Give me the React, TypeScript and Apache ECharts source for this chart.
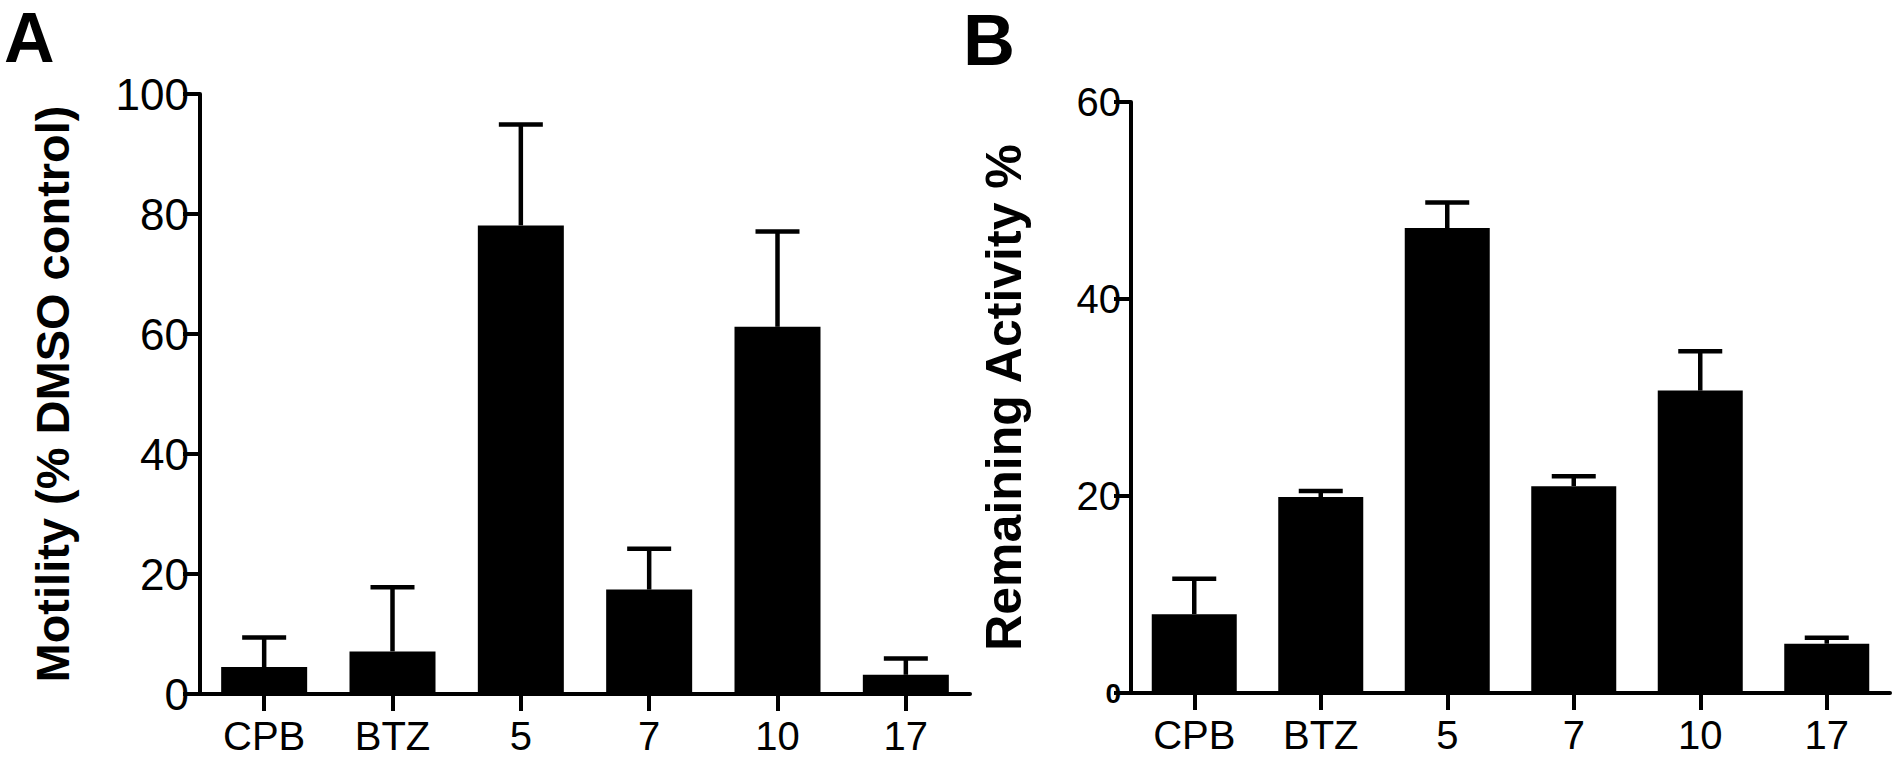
import React, { useEffect, useRef } from 'react';
import * as echarts from 'echarts';

const categories = ['CPB', 'BTZ', '5', '7', '10', '17'];
const motilityMean = [4.5, 7.1, 78.1, 17.4, 61.2, 3.2];
const motilitySD = [4.9, 10.7, 16.8, 6.8, 15.9, 2.7];
const activityMean = [8.0, 19.9, 47.2, 21.0, 30.7, 5.0];
const activitySD = [3.6, 0.6, 2.6, 1.0, 4.0, 0.6];
const motilityTicks = [0, 20, 40, 60, 80, 100];
const activityTicks = [0, 20, 40, 60];
const panelLabels = ['A', 'B'];
const axisNames = ['Motility (% DMSO control)', 'Remaining Activity %'];

const FONT = '"Liberation Sans", Arial, sans-serif';
const BLACK = '#000';

function errRender(params: any, api: any) {
  const idx = api.value(0);
  const mean = api.value(1);
  const sd = api.value(2);
  const base = api.coord([idx, mean]);
  const top = api.coord([idx, mean + sd]);
  const half = 22;
  const st = { stroke: BLACK, lineWidth: 4.5 };
  return {
    type: 'group',
    children: [
      { type: 'line', shape: { x1: base[0], y1: base[1], x2: top[0], y2: top[1] }, style: st },
      { type: 'line', shape: { x1: top[0] - half, y1: top[1], x2: top[0] + half, y2: top[1] }, style: st },
    ],
  };
}

function xAxisCfg(gridIndex: number) {
  return {
    type: 'category',
    gridIndex,
    data: categories,
    axisLine: { show: true, lineStyle: { color: BLACK, width: 4 } },
    axisTick: { show: true, alignWithLabel: true, length: 17, lineStyle: { color: BLACK, width: 4 } },
    axisLabel: { color: BLACK, fontSize: 40, fontFamily: FONT, margin: 22, interval: 0 },
    splitLine: { show: false },
  };
}

export default function App() {
  const ref = useRef<HTMLDivElement>(null);
  useEffect(() => {
    if (!ref.current) return;
    const chart = echarts.init(ref.current, undefined, { renderer: 'svg' });
    const option: any = {
      animation: false,
      backgroundColor: '#fff',
      grid: [
        { left: 200, top: 94, width: 770, height: 600, outerBoundsMode: 'none' },
        { left: 1131, top: 102, width: 759, height: 591, outerBoundsMode: 'none' },
      ],
      xAxis: [xAxisCfg(0), xAxisCfg(1)],
      yAxis: [
        {
          type: 'value',
          gridIndex: 0,
          min: motilityTicks[0],
          max: motilityTicks[motilityTicks.length - 1],
          interval: motilityTicks[1] - motilityTicks[0],
          splitLine: { show: false },
          axisLine: { show: true, lineStyle: { color: BLACK, width: 4 } },
          axisTick: { show: true, length: 17, lineStyle: { color: BLACK, width: 4 } },
          axisLabel: { color: BLACK, fontSize: 44, fontFamily: FONT, margin: 11 },
          name: axisNames[0],
          nameLocation: 'middle',
          nameRotate: 90,
          nameGap: 124,
          nameTextStyle: { color: BLACK, fontSize: 47, fontWeight: 'bold', fontFamily: FONT },
        },
        {
          type: 'value',
          gridIndex: 1,
          min: activityTicks[0],
          max: activityTicks[activityTicks.length - 1],
          interval: activityTicks[1] - activityTicks[0],
          splitLine: { show: false },
          axisLine: { show: true, lineStyle: { color: BLACK, width: 4 } },
          axisTick: { show: true, length: 17, lineStyle: { color: BLACK, width: 4 } },
          axisLabel: {
            color: BLACK,
            margin: 10,
            formatter: (v: number) => (v === 0 ? '{z|' + v + '}' : '{n|' + v + '}'),
            rich: {
              z: { fontSize: 28, fontWeight: 'bold', fontFamily: FONT, color: BLACK },
              n: { fontSize: 40, fontFamily: FONT, color: BLACK },
            },
          },
          name: axisNames[1],
          nameLocation: 'middle',
          nameRotate: 90,
          nameGap: 102,
          nameTextStyle: { color: BLACK, fontSize: 50, fontWeight: 'bold', fontFamily: FONT },
        },
      ],
      series: [
        {
          type: 'bar',
          xAxisIndex: 0,
          yAxisIndex: 0,
          data: motilityMean,
          barWidth: 86,
          itemStyle: { color: BLACK },
          z: 2,
        },
        {
          type: 'custom',
          xAxisIndex: 0,
          yAxisIndex: 0,
          data: motilityMean.map((m, i) => [i, m, motilitySD[i]]),
          renderItem: errRender,
          z: 3,
        },
        {
          type: 'bar',
          xAxisIndex: 1,
          yAxisIndex: 1,
          data: activityMean,
          barWidth: 85,
          itemStyle: { color: BLACK },
          z: 2,
        },
        {
          type: 'custom',
          xAxisIndex: 1,
          yAxisIndex: 1,
          data: activityMean.map((m, i) => [i, m, activitySD[i]]),
          renderItem: errRender,
          z: 3,
        },
      ],
      graphic: [
        {
          type: 'text',
          x: 4,
          y: 38,
          style: { text: panelLabels[0], fill: BLACK, fontSize: 70, fontWeight: 'bold', fontFamily: FONT, textAlign: 'left', textVerticalAlign: 'middle' },
        },
        {
          type: 'text',
          x: 963,
          y: 40,
          style: { text: panelLabels[1], fill: BLACK, fontSize: 72, fontWeight: 'bold', fontFamily: FONT, textAlign: 'left', textVerticalAlign: 'middle' },
        },
      ],
    };
    chart.setOption(option);
    return () => chart.dispose();
  }, []);
  return <div ref={ref} style={{ position: 'absolute', left: 0, top: 0, width: 1894, height: 762 }} />;
}
